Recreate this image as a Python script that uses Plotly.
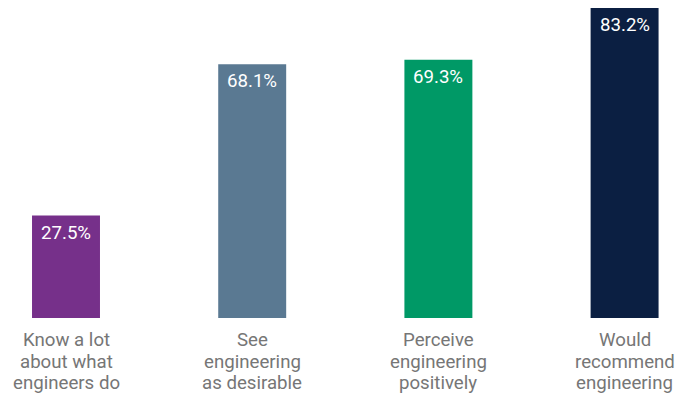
import plotly.graph_objects as go

categories = ["Know a lot<br>about what<br>engineers do", "See<br>engineering<br>as desirable",
              "Perceive<br>engineering<br>positively", "Would<br>recommend<br>engineering"]
values = [27.5, 68.1, 69.3, 83.2]
value_labels = ["27.5%", "68.1%", "69.3%", "83.2%"]
colors = ["#76308A", "#5A7992", "#009966", "#0B1F42"]

xs = list(range(len(categories)))
FONT = "Roboto"
FS = 18.67

fig = go.Figure(go.Bar(
    x=xs, y=values, width=0.365, marker=dict(color=colors, line=dict(width=0)),
    hoverinfo="skip",
))

for x, v, t in zip(xs, values, value_labels):
    fig.add_annotation(x=x, y=v, text=t, showarrow=False, yanchor="top", yshift=-4,
                       font=dict(family=FONT, size=FS, color="white"))

# category labels, one annotation per line for tighter line spacing
for x, cat in zip(xs, categories):
    for i, line in enumerate(cat.split("<br>")):
        fig.add_annotation(x=x, xref="x", y=0, yref="paper", text=line, showarrow=False,
                           yanchor="top", yshift=-(9 + i * 21.7),
                           font=dict(family=FONT, size=FS, color="#767676"))

fig.update_layout(
    width=678, height=390, margin=dict(l=0, r=0, t=0, b=80),
    paper_bgcolor="white", plot_bgcolor="white", showlegend=False,
    font=dict(family=FONT),
)
fig.update_xaxes(range=[-0.3115, 3.3298], showticklabels=False, automargin=False,
                 showgrid=False, zeroline=False, showline=False, ticks="")
fig.update_yaxes(range=[0, 83.21], visible=False, automargin=False)

fig.write_html("out.html")
